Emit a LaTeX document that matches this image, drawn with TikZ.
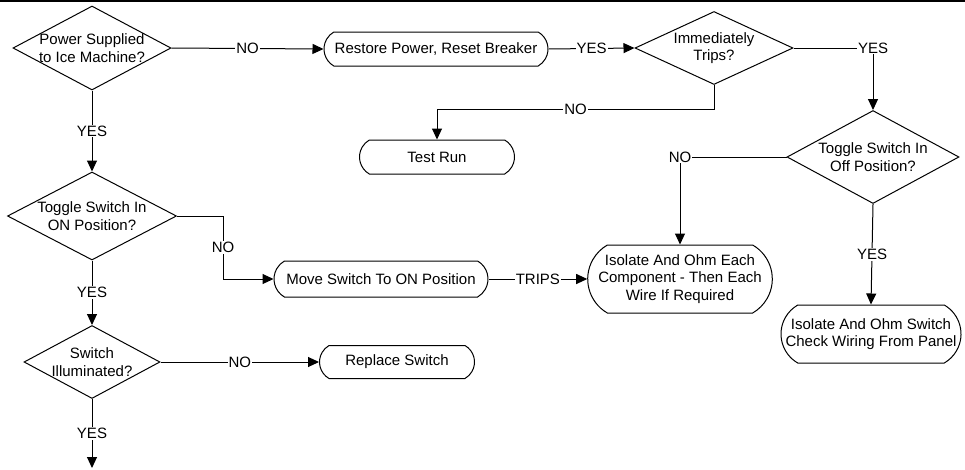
\documentclass[tikz,border=0pt]{standalone}
\usepackage{fontspec}
\setmainfont{Liberation Sans}
\usetikzlibrary{calc,positioning,shapes,arrows.meta}

\begin{document}
\begin{tikzpicture}[x=1pt,y=-1pt,line width=1pt,
  font=\fontsize{15}{17.5}\selectfont,
  dec/.style={diamond,draw,align=center,inner sep=-20pt},
  term/.style={rounded rectangle,rounded rectangle arc length=120,draw,align=center,inner sep=2pt},
  arr/.style={-{Triangle[length=11pt,width=10pt]}},
  lbl/.style={fill=white,inner sep=1pt}]
\useasboundingbox (0,0) rectangle (965,469);
\draw [line width=1.5pt] (0,1) -- (965,1);
% questions
\node [dec,minimum width=158,minimum height=84] (power) at (92,48) {Power Supplied\\to Ice Machine?};
\node [dec,minimum width=158,minimum height=73] (trips) at (714,48) {Immediately\\Trips?};
\node [dec,minimum width=172,minimum height=93] (offpos) at (873,157) {Toggle Switch In\\Off Position?};
\node [dec,minimum width=169,minimum height=88] (onpos) at (92,216) {Toggle Switch In\\ON Position?};
\node [dec,minimum width=136,minimum height=73] (lit) at (92,362) {Switch\\Illuminated?};
% actions
\node [term,minimum width=228,minimum height=34] (restore) at (436,49) {Restore Power, Reset Breaker};
\node [term,minimum width=159,minimum height=34] (testrun) at (437,157) {Test Run};
\node [term,minimum width=218,minimum height=36] (move) at (381,279) {Move Switch To ON Position};
\node [term,minimum width=181,minimum height=68] (ohmall) at (680,279) {Isolate And Ohm Each\\Component - Then Each\\Wire If Required};
\node [term,minimum width=184,minimum height=58] (ohmsw) at (871,334) {Isolate And Ohm Switch\\Check Wiring From Panel};
\node [term,minimum width=159,minimum height=33] (replace) at (397,362) {Replace Switch};
\coordinate (next) at (92,468);
% connectors
\draw [arr] (power.east) -- node [lbl] {NO} (restore.west);
\draw [arr] (restore.east) -- node [lbl] {YES} (trips.west);
\draw [arr] (trips.east) -| node [lbl] {YES} (offpos.north);
\draw [arr] (trips.south) -- ++(0,24) -| node [lbl,pos=0.25] {NO} (testrun.north);
\draw [arr] (offpos.west) -| node [lbl] {NO} (ohmall.north);
\draw [arr] (offpos.south) -- node [lbl] {YES} (ohmsw.north);
\draw [arr] (power.south) -- node [lbl] {YES} (onpos.north);
\draw [arr] (onpos.east) -- ++(46,0) |- node [lbl,pos=0.25] {NO} (move.west);
\draw [arr] (move.east) -- node [lbl] {TRIPS} (ohmall.west);
\draw [arr] (onpos.south) -- node [lbl] {YES} (lit.north);
\draw [arr] (lit.east) -- node [lbl] {NO} (replace.west);
\draw [arr] (lit.south) -- node [lbl] {YES} (next);
\end{tikzpicture}
\end{document}
